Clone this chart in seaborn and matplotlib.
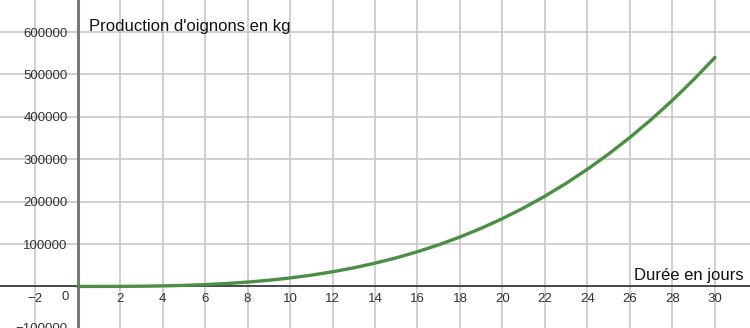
import matplotlib
matplotlib.use("Agg")
import matplotlib.pyplot as plt
import seaborn as sns
import pandas as pd

days = list(range(0, 31))
production = [0, 20, 160, 540, 1280, 2500, 4320, 6860, 10240, 14580,
              20000, 26620, 34560, 43940, 54880, 67500, 81920, 98260, 116640, 137180,
              160000, 185220, 212960, 243340, 276480, 312500, 351520, 393660, 439040, 487780,
              540000]
x_ticks = [-2] + list(range(2, 31, 2))
y_ticks = [100000, 200000, 300000, 400000, 500000, 600000]
x_title = "Durée en jours"
y_title = "Production d'oignons en kg"

sns.set_style("white")
plt.rcParams['font.family'] = ['Liberation Sans', 'DejaVu Sans']

df = pd.DataFrame({"jours": days, "production": production})

fig = plt.figure(figsize=(7.5, 3.28), dpi=100)
ax = fig.add_axes([0, 0, 1, 1])

ax.set_xlim(-3.65, 31.65)
ax.set_ylim(-98000, 675500)

# grid
for xv in x_ticks:
    ax.axvline(xv, color="#c8c8c8", lw=1.2, zorder=0)
for yv in [-100000, 0] + y_ticks:
    ax.axhline(yv, color="#c8c8c8", lw=1.2, zorder=0)

sns.lineplot(data=df, x="jours", y="production", ax=ax, color="#4a8f44", lw=2.4, zorder=5)

for s in ["top", "right"]:
    ax.spines[s].set_visible(False)
ax.spines["bottom"].set_position(("data", 0))
ax.spines["left"].set_position(("data", 0))
ax.spines["bottom"].set_color("#222222")
ax.spines["bottom"].set_linewidth(1.1)
ax.spines["left"].set_color("#7a7a7a")
ax.spines["left"].set_linewidth(2.2)
ax.spines["left"].set_zorder(3)

ax.set_xticks(x_ticks)
ax.set_xticklabels(["\u22122" if v == -2 else str(v) for v in x_ticks])
ax.set_yticks(y_ticks)
ax.set_yticklabels([str(v) for v in y_ticks])
ax.tick_params(axis="x", length=0, pad=5, labelsize=9.5, colors="#333333")
ax.tick_params(axis="y", length=0, pad=7, labelsize=9.5, colors="#333333")
ax.set_xlabel("")
ax.set_ylabel("")

ax.text(-0.4, -25000, "0", ha="right", va="center", fontsize=9.5, color="#333333")
ax.text(-0.45, -100000, "\u2212100000", ha="right", va="center", fontsize=9.5,
        color="#333333", clip_on=False)

ax.text(0.55, 614000, y_title, ha="left", va="center", fontsize=12, color="#111111")
ax.text(31.35, 26000, x_title, ha="right", va="center", fontsize=12, color="#111111")

fig.savefig("out.png", dpi=100)
